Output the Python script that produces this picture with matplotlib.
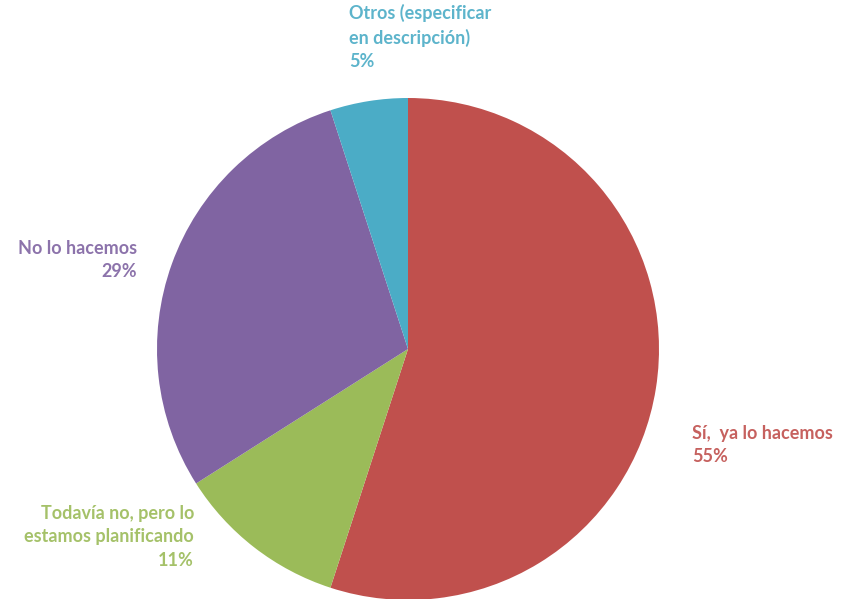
import matplotlib.pyplot as plt

labels = ['Sí,  ya lo hacemos', 'Todavía no, pero lo\nestamos planificando',
          'No lo hacemos', 'Otros (especificar\nen descripción)']
values = [55, 11, 29, 5]
colors = ['#C0504D', '#9BBB59', '#8064A2', '#4BACC6']

# label anchor positions (pixel coordinates in the 846x599 image) and alignment
label_px = [(692, 425), (194, 505), (137, 240), (349, 4)]
label_ha = ['left', 'right', 'right', 'left']

W, H = 846, 599
cx, cy, r = 408, 349, 251

fig = plt.figure(figsize=(W / 100, H / 100), dpi=100)
ax = fig.add_axes([(cx - r) / W, (H - cy - r) / H, 2 * r / W, 2 * r / H])
ax.pie(values, colors=colors, startangle=90, counterclock=False,
       wedgeprops=dict(linewidth=0))
ax.set_xlim(-1, 1)
ax.set_ylim(-1, 1)
ax.set_aspect('equal')
ax.axis('off')

for lab, v, (px, py), ha, c in zip(labels, values, label_px, label_ha, colors):
    fig.text(px / W, 1 - py / H, '%s\n%d%%' % (lab, v), ha=ha, va='top',
             color=c, fontsize=13, fontweight='bold', family='Lato',
             linespacing=1.45, alpha=0.9)

fig.savefig('out.png', dpi=100)
